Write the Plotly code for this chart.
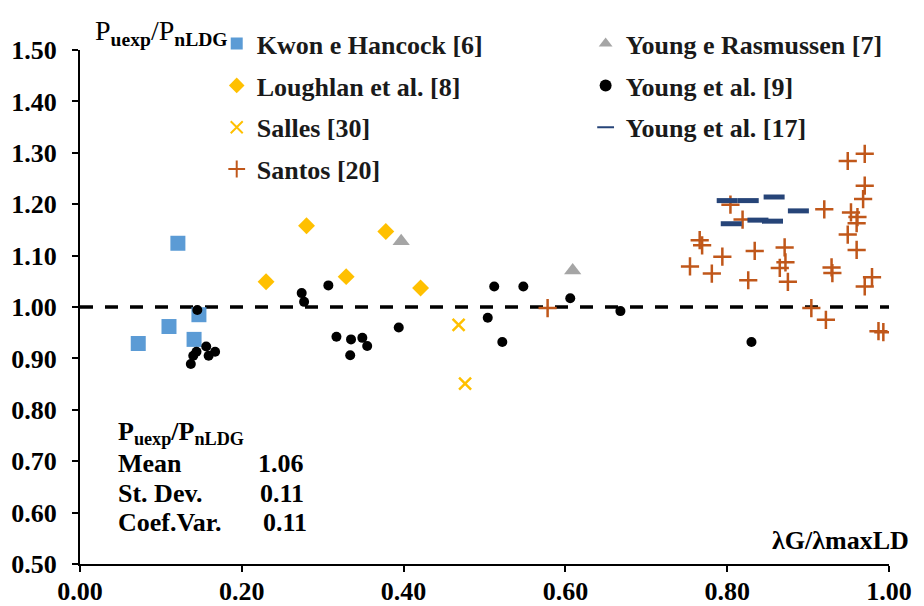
import plotly.graph_objects as go

# ---------------- data ----------------
kwon_x = [0.072, 0.110, 0.121, 0.141, 0.147]
kwon_y = [0.929, 0.962, 1.124, 0.937, 0.985]

yr_x = [0.397, 0.609]
yr_y = [1.128, 1.071]

lough_x = [0.230, 0.280, 0.329, 0.378, 0.421]
lough_y = [1.049, 1.158, 1.059, 1.147, 1.037]

y9_x = [0.145, 0.137, 0.140, 0.144, 0.156, 0.159, 0.167,
        0.274, 0.277, 0.307, 0.317, 0.335, 0.349, 0.355, 0.334, 0.394,
        0.504, 0.512, 0.522, 0.548, 0.606, 0.668, 0.830]
y9_y = [0.994, 0.889, 0.905, 0.913, 0.923, 0.905, 0.913,
        1.027, 1.010, 1.042, 0.942, 0.937, 0.940, 0.924, 0.906, 0.960,
        0.979, 1.040, 0.932, 1.040, 1.017, 0.992, 0.932]

salles_x = [0.468, 0.476]
salles_y = [0.965, 0.851]

y17_x = [0.800, 0.826, 0.858, 0.888, 0.805, 0.838, 0.856]
y17_y = [1.207, 1.207, 1.214, 1.187, 1.162, 1.169, 1.167]

santos_x = [0.578, 0.754, 0.766, 0.769, 0.781, 0.794, 0.804, 0.819, 0.826, 0.834,
            0.865, 0.871, 0.872, 0.875, 0.904, 0.920, 0.922, 0.929, 0.930, 0.949,
            0.949, 0.953, 0.960, 0.960, 0.961, 0.968, 0.970, 0.970, 0.970, 0.979,
            0.987, 0.993]
santos_y = [0.998, 1.079, 1.130, 1.120, 1.065, 1.098, 1.199, 1.170, 1.052, 1.109,
            1.076, 1.116, 1.087, 1.049, 0.998, 1.190, 0.975, 1.077, 1.066, 1.284,
            1.141, 1.184, 1.163, 1.111, 1.175, 1.210, 1.298, 1.236, 1.040, 1.058,
            0.953, 0.951]

ref_x = [0.0, 1.0]
ref_y = [1.0, 1.0]

x_ticks = [0.0, 0.2, 0.4, 0.6, 0.8, 1.0]
y_ticks = [0.5, 0.6, 0.7, 0.8, 0.9, 1.0, 1.1, 1.2, 1.3, 1.4, 1.5]

stats_labels = ["Mean", "St. Dev.", "Coef.Var."]
stats_values = ["1.06", "0.11", "0.11"]

FONT = "Liberation Serif"
FS = 26

# the page body has an 8px margin, so the figure is drawn 8px in from the corner
OFF = 8
fig = go.Figure()

# reference line at 1.00
fig.add_trace(go.Scatter(x=ref_x, y=ref_y, mode="lines", showlegend=False,
                         line=dict(color="black", width=3.5, dash="13px,12px"),
                         hoverinfo="skip"))

def add(name, xs, ys, legend, marker):
    fig.add_trace(go.Scatter(x=xs, y=ys, mode="markers", name=name,
                             legend=legend, legendgroup=name, marker=marker))

add("Kwon e Hancock [6]", kwon_x, kwon_y, "legend",
    dict(symbol="square", size=15, color="#5B9BD5"))
add("Loughlan et al. [8]", lough_x, lough_y, "legend",
    dict(symbol="diamond", size=13, color="#FFC000"))
add("Salles [30]", salles_x, salles_y, "legend",
    dict(symbol="x-thin", size=12, color="#FFC000", line=dict(color="#FFC000", width=2.5)))
add("Santos [20]", santos_x, santos_y, "legend",
    dict(symbol="cross-thin", size=13, color="#C0571A", line=dict(color="#C0571A", width=2.5)))
add("Young e Rasmussen [7]", yr_x, yr_y, "legend2",
    dict(symbol="triangle-up", size=15, color="#A5A5A5"))
add("Young et al. [9]", y9_x, y9_y, "legend2",
    dict(symbol="circle", size=10, color="black"))
add("Young et al. [17]", y17_x, y17_y, "legend2",
    dict(symbol="line-ew", size=15, color="#264478", line=dict(color="#264478", width=5)))

leg_font = dict(family=FONT, size=FS, color="#1a1a1a", weight="bold")
fig.update_layout(
    width=924 - OFF, height=606 - OFF,
    margin=dict(l=80 - OFF, r=35, t=42 - OFF, b=42),
    paper_bgcolor="white", plot_bgcolor="white",
    font=dict(family=FONT, size=FS, color="black"),
    legend=dict(x=0.169, y=1.058, xanchor="left", yanchor="top",
                font=leg_font, bgcolor="rgba(0,0,0,0)", tracegroupgap=5,
                itemsizing="constant"),
    legend2=dict(x=0.625, y=1.058, xanchor="left", yanchor="top",
                 font=leg_font, bgcolor="rgba(0,0,0,0)", tracegroupgap=5,
                 itemsizing="constant"),
    xaxis=dict(range=[0, 1], tickvals=x_ticks, tickformat=".2f",
               showline=True, linecolor="black", linewidth=2,
               ticks="outside", ticklen=6, tickwidth=2, tickcolor="black",
               showgrid=False, zeroline=False, ticklabelstandoff=-3,
               automargin=False,
               tickfont=dict(family=FONT, size=FS, color="black", weight="bold")),
    yaxis=dict(range=[0.5, 1.5], tickvals=y_ticks, tickformat=".2f",
               showline=True, linecolor="black", linewidth=2,
               ticks="outside", ticklen=6, tickwidth=2, tickcolor="black",
               showgrid=False, zeroline=False, ticklabelstandoff=10,
               automargin=False,
               tickfont=dict(family=FONT, size=FS, color="black", weight="bold")),
)

# screen-pixel -> paper coordinates (plot area spans x 80..889, y 42..564 on screen)
def px2x(p):
    return (p - 80) / 809.0

def px2y(p):
    return (564 - p) / 522.0

ann_font = dict(family=FONT, size=FS, color="black", weight="bold")

# y-axis title at top
fig.add_annotation(xref="paper", yref="paper", x=px2x(93), y=px2y(24),
                   xanchor="left", yanchor="middle", showarrow=False,
                   text="P<sub><b>uexp</b></sub>/P<sub><b>nLDG</b></sub>",
                   font=dict(family=FONT, size=28, color="black"))
# x-axis title at right
fig.add_annotation(xref="paper", yref="paper", x=px2x(911), y=px2y(540),
                   xanchor="right", yanchor="middle", showarrow=False,
                   text="λG/λmaxLD", font=ann_font)

# statistics block
fig.add_annotation(xref="paper", yref="paper", x=px2x(116), y=px2y(431),
                   xanchor="left", yanchor="middle", showarrow=False,
                   text="P<sub>uexp</sub>/P<sub>nLDG</sub>", font=ann_font)
row_y = [462, 492, 522]
val_x = [256, 258, 261]
for lab, val, ry, vx in zip(stats_labels, stats_values, row_y, val_x):
    fig.add_annotation(xref="paper", yref="paper", x=px2x(116), y=px2y(ry),
                       xanchor="left", yanchor="middle", showarrow=False,
                       text=lab, font=ann_font)
    fig.add_annotation(xref="paper", yref="paper", x=px2x(vx), y=px2y(ry),
                       xanchor="left", yanchor="middle", showarrow=False,
                       text=val, font=ann_font)

fig.write_html("out.html")
